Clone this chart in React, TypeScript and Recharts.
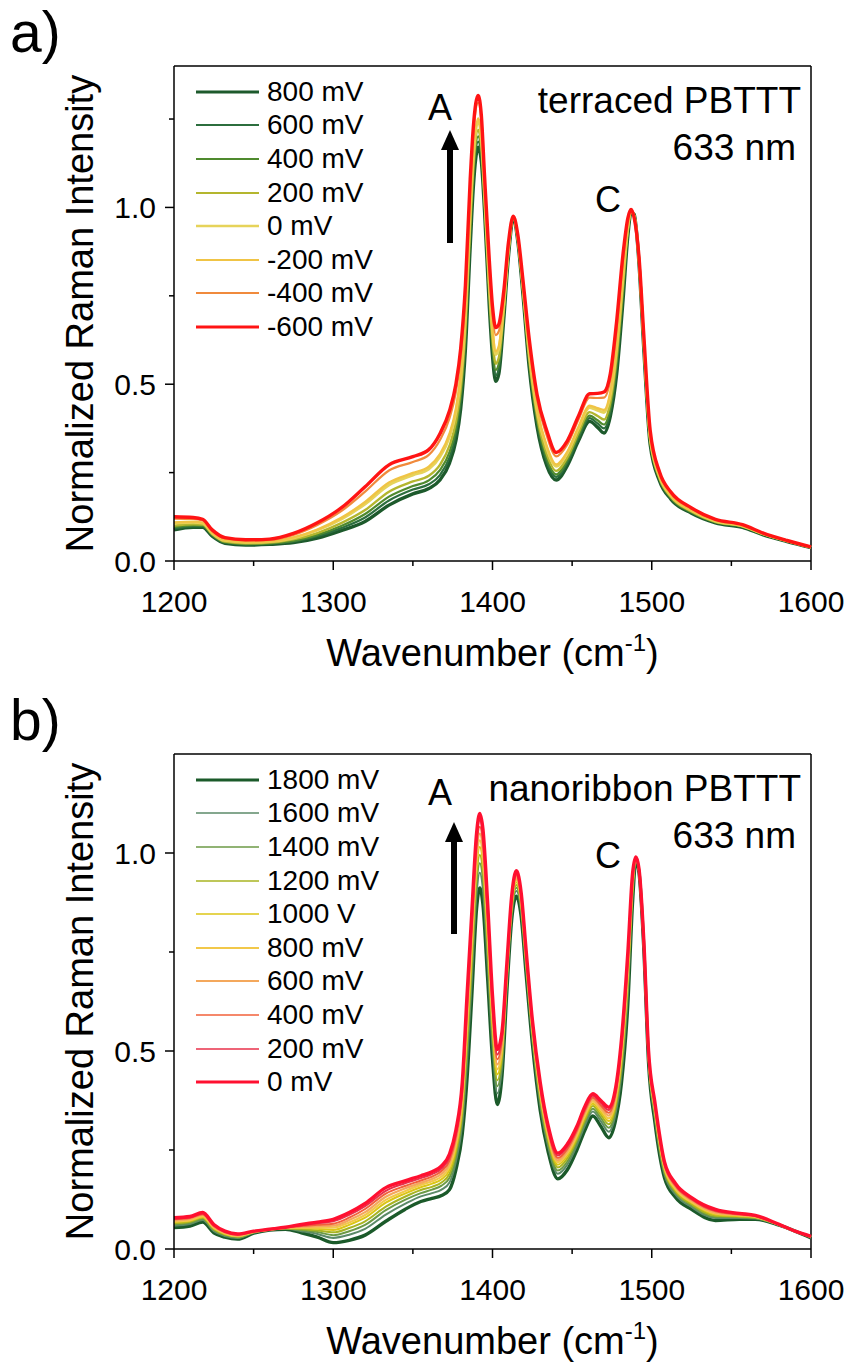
import { LineChart, Line, XAxis, YAxis, ReferenceLine, Legend } from 'recharts';

const FONT = '"Liberation Sans", Arial, Helvetica, sans-serif';

// ---------- panel a: terraced PBTTT ----------
const wavenumbersA = [1200, 1212, 1218, 1224, 1232, 1245, 1260, 1275, 1290, 1305, 1320, 1335, 1350, 1360, 1367, 1373, 1377, 1380, 1383, 1386, 1388, 1391, 1393, 1395, 1398, 1400, 1402, 1404, 1407, 1410, 1413, 1416, 1419, 1423, 1428, 1434, 1440, 1447, 1454, 1461, 1466, 1470, 1474, 1478, 1482, 1485, 1487, 1489, 1492, 1495, 1499, 1505, 1512, 1525, 1540, 1557, 1570, 1585, 1600];

const a800 = [.088, .095, .095, .07, .05, .045, .047, .052, .065, .086, .112, .158, .19, .205, .229, .277, .34, .43, .6, .89, 1.06, 1.17, 1.13, .99, .72, .58, .508, .53, .68, .86, .968, .9, .76, .55, .38, .27, .229, .27, .34, .395, .378, .362, .41, .53, .74, .92, .985, .98, .84, .6, .33, .225, .175, .135, .108, .095, .074, .055, .038];
const a600 = [.092, .098, .098, .072, .052, .047, .049, .055, .070, .093, .123, .171, .202, .217, .243, .293, .358, .449, .620, .911, 1.079, 1.186, 1.144, 1.001, .734, .595, .525, .545, .689, .864, .969, .902, .764, .559, .390, .281, .238, .278, .348, .404, .389, .375, .423, .547, .754, .926, .986, .979, .842, .604, .334, .228, .177, .137, .109, .096, .075, .055, .038];
const a400 = [.096, .101, .100, .074, .053, .048, .050, .057, .074, .099, .133, .182, .212, .228, .257, .308, .374, .466, .638, .930, 1.096, 1.201, 1.157, 1.011, .747, .609, .540, .559, .697, .868, .969, .904, .768, .567, .399, .291, .245, .285, .355, .411, .398, .386, .435, .562, .767, .931, .987, .978, .844, .608, .338, .230, .179, .138, .110, .097, .075, .056, .038];
const a200 = [.100, .104, .103, .076, .055, .050, .052, .061, .079, .107, .144, .196, .225, .241, .272, .326, .393, .486, .659, .953, 1.116, 1.219, 1.173, 1.023, .763, .626, .558, .576, .706, .873, .970, .907, .773, .576, .410, .303, .255, .293, .363, .421, .410, .400, .450, .580, .783, .937, .988, .977, .847, .613, .343, .233, .182, .140, .111, .098, .076, .056, .039];
const a0 = [.107, .109, .107, .079, .058, .053, .055, .065, .087, .118, .161, .215, .243, .260, .295, .351, .420, .515, .690, .985, 1.145, 1.244, 1.195, 1.040, .785, .650, .584, .600, .720, .880, .972, .910, .780, .590, .425, .320, .268, .305, .375, .434, .426, .420, .470, .605, .805, .945, .990, .975, .850, .620, .350, .238, .185, .143, .113, .099, .077, .057, .039];
const aM200 = [.109, .111, .108, .080, .059, .053, .055, .067, .089, .122, .167, .222, .249, .267, .302, .360, .430, .525, .701, .996, 1.155, 1.252, 1.203, 1.046, .793, .658, .593, .608, .725, .882, .972, .911, .782, .595, .430, .326, .273, .309, .379, .439, .432, .427, .477, .614, .813, .948, .990, .974, .851, .622, .352, .239, .186, .143, .114, .099, .077, .057, .039];
const aM400 = [.120, .119, .115, .085, .064, .058, .060, .074, .102, .141, .196, .256, .280, .300, .342, .404, .478, .576, .755, 1.053, 1.206, 1.296, 1.242, 1.076, .832, .700, .639, .650, .749, .894, .974, .917, .794, .619, .457, .356, .296, .330, .400, .462, .461, .462, .513, .659, .852, .963, .993, .971, .857, .634, .364, .247, .192, .148, .117, .102, .078, .058, .040];
const aM600 = [.125, .123, .118, .088, .066, .06, .062, .078, .108, .15, .21, .272, .295, .315, .36, .425, .5, .6, .78, 1.08, 1.23, 1.317, 1.26, 1.09, .85, .72, .66, .67, .76, .9, .975, .92, .8, .63, .47, .37, .307, .34, .41, .473, .474, .478, .53, .68, .87, .97, .994, .97, .86, .64, .37, .25, .195, .15, .118, .103, .079, .058, .04];

const seriesA = [a800, a600, a400, a200, a0, aM200, aM400, aM600];
const labelsA = ['800 mV', '600 mV', '400 mV', '200 mV', '0 mV', '-200 mV', '-400 mV', '-600 mV'];
const colorsA = ['#1d5a2c', '#2c6e3e', '#4f8a2e', '#b4b62e', '#e6d35a', '#f0c445', '#f08a3c', '#ff1414'];
const widthsA = [3, 1.8, 1.8, 2, 2.4, 2, 1.8, 3];

// ---------- panel b: nanoribbon PBTTT ----------
const wavenumbersB = [1200, 1210, 1218, 1225, 1232, 1240, 1250, 1260, 1270, 1280, 1290, 1300, 1310, 1320, 1333, 1345, 1355, 1362, 1368, 1373, 1377, 1381, 1384, 1387, 1390, 1392, 1394, 1397, 1400, 1403, 1406, 1409, 1412, 1415, 1418, 1421, 1425, 1430, 1435, 1441, 1447, 1453, 1458, 1463, 1468, 1473, 1477, 1481, 1485, 1488, 1490, 1492, 1495, 1498, 1502, 1508, 1515, 1525, 1540, 1555, 1565, 1580, 1590, 1600];

const b1800 = [.054, .058, .068, .041, .03, .025, .04, .048, .05, .041, .03, .016, .022, .035, .07, .1, .12, .128, .135, .15, .2, .29, .43, .64, .86, .912, .87, .68, .48, .365, .44, .65, .83, .891, .84, .7, .52, .35, .245, .177, .2, .25, .3, .336, .31, .281, .32, .42, .62, .88, .98, .95, .76, .47, .32, .18, .13, .1, .072, .075, .075, .06, .045, .028];
const b1600 = [.059, .063, .073, .045, .033, .028, .041, .048, .051, .045, .038, .028, .036, .051, .087, .114, .133, .141, .150, .168, .220, .316, .472, .682, .898, .950, .908, .718, .512, .393, .462, .664, .842, .904, .852, .712, .532, .364, .258, .190, .213, .262, .312, .347, .323, .296, .336, .442, .646, .894, .982, .952, .764, .476, .330, .188, .137, .106, .078, .078, .077, .060, .045, .029];
const b1400 = [.062, .066, .076, .048, .035, .029, .042, .049, .052, .048, .043, .035, .045, .061, .098, .124, .141, .150, .160, .180, .233, .333, .499, .709, .923, .974, .933, .743, .533, .411, .476, .673, .850, .912, .860, .720, .540, .373, .266, .198, .221, .270, .320, .354, .331, .306, .346, .456, .663, .903, .983, .953, .767, .480, .337, .193, .142, .110, .081, .080, .078, .061, .045, .029];
const b1200 = [.065, .069, .079, .050, .037, .031, .042, .049, .052, .050, .047, .042, .053, .070, .107, .132, .149, .157, .168, .190, .244, .347, .522, .732, .944, .995, .954, .764, .550, .426, .488, .681, .856, .919, .866, .726, .546, .381, .274, .206, .229, .276, .326, .361, .339, .315, .355, .468, .677, .911, .984, .954, .769, .483, .342, .198, .145, .113, .084, .082, .079, .061, .045, .030];
const b1000 = [.068, .071, .081, .053, .038, .032, .043, .049, .053, .053, .051, .048, .061, .079, .117, .140, .156, .165, .176, .200, .255, .362, .546, .756, .965, 1.015, .975, .785, .568, .441, .501, .689, .863, .926, .873, .733, .553, .389, .281, .213, .236, .283, .333, .367, .346, .323, .364, .481, .692, .919, .986, .956, .771, .487, .348, .202, .149, .117, .087, .083, .081, .061, .045, .030];
const b800 = [.070, .073, .083, .054, .040, .033, .043, .049, .053, .054, .054, .054, .067, .086, .124, .146, .162, .171, .183, .208, .264, .373, .564, .774, .982, 1.032, .992, .802, .582, .454, .510, .695, .868, .932, .878, .738, .558, .395, .287, .219, .242, .288, .338, .372, .352, .330, .371, .490, .703, .925, .986, .956, .773, .489, .352, .206, .152, .119, .090, .085, .081, .061, .045, .031];
const b600 = [.072, .076, .086, .056, .041, .034, .044, .049, .054, .056, .058, .059, .073, .093, .132, .153, .167, .177, .190, .216, .273, .385, .583, .793, .999, 1.049, 1.009, .819, .597, .466, .520, .701, .874, .938, .884, .744, .564, .401, .292, .224, .247, .294, .344, .377, .357, .337, .378, .500, .715, .931, .987, .957, .775, .492, .357, .209, .156, .122, .092, .086, .082, .061, .045, .031];
const b400 = [.075, .078, .088, .058, .042, .036, .044, .050, .054, .058, .061, .064, .079, .101, .140, .159, .173, .183, .197, .224, .282, .397, .602, .812, 1.016, 1.066, 1.026, .836, .611, .479, .530, .707, .879, .943, .889, .749, .569, .407, .298, .230, .253, .299, .349, .382, .363, .344, .386, .510, .727, .937, .988, .958, .776, .495, .361, .213, .159, .125, .095, .087, .083, .062, .045, .031];
const b200 = [.077, .080, .090, .060, .044, .037, .045, .050, .055, .060, .065, .070, .086, .108, .147, .166, .179, .189, .203, .232, .291, .408, .621, .831, 1.033, 1.083, 1.043, .853, .626, .491, .540, .714, .885, .949, .895, .755, .575, .414, .304, .236, .259, .305, .355, .387, .369, .351, .393, .520, .738, .944, .989, .959, .778, .497, .366, .216, .162, .127, .097, .089, .084, .062, .045, .032];
const b0 = [.079, .082, .092, .062, .045, .038, .045, .05, .055, .062, .068, .075, .092, .115, .155, .172, .185, .195, .21, .24, .3, .42, .64, .85, 1.05, 1.10, 1.06, .87, .64, .504, .55, .72, .89, .955, .9, .76, .58, .42, .31, .242, .265, .31, .36, .392, .375, .358, .4, .53, .75, .95, .99, .96, .78, .5, .37, .22, .165, .13, .1, .09, .085, .062, .045, .032];

const seriesB = [b1800, b1600, b1400, b1200, b1000, b800, b600, b400, b200, b0];
const labelsB = ['1800 mV', '1600 mV', '1400 mV', '1200 mV', '1000 V', '800 mV', '600 mV', '400 mV', '200 mV', '0 mV'];
const colorsB = ['#1b5a2a', '#5b8a68', '#6c9a46', '#a8b422', '#dcc616', '#f2c84a', '#f4a85c', '#f2603a', '#e8304a', '#ff1030'];
const widthsB = [3, 1.6, 1.6, 1.6, 1.6, 1.8, 1.8, 1.6, 1.6, 3];

const xTicks = [1200, 1250, 1300, 1350, 1400, 1450, 1500, 1550, 1600];
const yTicksA = [0, 0.25, 0.5, 0.75, 1, 1.25];
const yTicksB = [0, 0.25, 0.5, 0.75, 1];

function buildRows(w: number[], series: number[][]) {
  return w.map((x, i) => {
    const row: Record<string, number> = { w: x };
    series.forEach((s, k) => { row['s' + k] = s[i]; });
    return row;
  });
}

const rowsA = buildRows(wavenumbersA, seriesA);
const rowsB = buildRows(wavenumbersB, seriesB);

function XTick(props: any) {
  const { x, y, payload } = props;
  const major = payload.value % 100 === 0;
  return (
    <g>
      <line x1={x} x2={x} y1={y} y2={y + (major ? 9 : 5)} stroke="#000" strokeWidth={1.5} />
      {major && (
        <text x={x} y={y + 51} textAnchor="middle" fontSize={30} fontFamily={FONT} fill="#000">
          {payload.value}
        </text>
      )}
    </g>
  );
}

function YTick(props: any) {
  const { x, y, payload } = props;
  const v = payload.value;
  const major = Math.abs(v * 2 - Math.round(v * 2)) < 1e-6;
  return (
    <g>
      <line x1={x - (major ? 9 : 5)} x2={x} y1={y} y2={y} stroke="#000" strokeWidth={1.5} />
      {major && (
        <text x={x - 18} y={y + 10.5} textAnchor="end" fontSize={30} fontFamily={FONT} fill="#000">
          {v.toFixed(1)}
        </text>
      )}
    </g>
  );
}

function SeriesLegend({ labels, colors, widths }: { labels: string[]; colors: string[]; widths: number[] }) {
  return (
    <div style={{ fontFamily: FONT, fontSize: 28, color: '#000' }}>
      {labels.map((l, i) => (
        <div key={l} style={{ display: 'flex', alignItems: 'center', height: 33.6, whiteSpace: 'nowrap' }}>
          <svg width={71} height={10} style={{ flex: 'none' }}>
            <line x1={0} x2={63} y1={5} y2={5} stroke={colors[i]} strokeWidth={widths[i]} />
          </svg>
          <span>{l}</span>
        </div>
      ))}
    </div>
  );
}

function Panel(props: {
  rows: Record<string, number>[];
  labels: string[];
  colors: string[];
  widths: number[];
  yMax: number;
  yTicks: number[];
  height: number;
}) {
  const { rows, labels, colors, widths, yMax, yTicks, height } = props;
  return (
    <LineChart width={850} height={height} data={rows} margin={{ top: 66, right: 39, bottom: 0, left: 0 }}>
      <XAxis
        dataKey="w"
        type="number"
        domain={[1200, 1600]}
        ticks={xTicks}
        interval={0}
        tickSize={0}
        tickMargin={0}
        tickLine={false}
        tick={XTick}
        height={height - 66 - 495}
        axisLine={{ stroke: '#000', strokeWidth: 1.5 }}
      />
      <YAxis
        type="number"
        domain={[0, yMax]}
        ticks={yTicks}
        interval={0}
        tickSize={0}
        tickMargin={0}
        tickLine={false}
        tick={YTick}
        width={174}
        allowDataOverflow
        axisLine={{ stroke: '#000', strokeWidth: 1.5 }}
      />
      <ReferenceLine y={yMax} stroke="#000" strokeWidth={1.5} />
      <ReferenceLine x={1600} stroke="#000" strokeWidth={1.5} />
      <Legend
        layout="vertical"
        align="center"
        verticalAlign="middle"
        wrapperStyle={{ left: 196, top: 75, width: 260 }}
        content={() => <SeriesLegend labels={labels} colors={colors} widths={widths} />}
      />
      {labels.map((l, k) => (
        <Line
          key={l}
          dataKey={'s' + k}
          name={l}
          type="monotone"
          stroke={colors[k]}
          strokeWidth={widths[k] + 0.4}
          dot={false}
          isAnimationActive={false}
          strokeLinejoin="round"
        />
      ))}
    </LineChart>
  );
}

function Overlay(props: {
  tag: string;
  sample: string;
  arrowX: number;
  arrowTop: number;
  arrowBottom: number;
  aBase: number;
  cBase: number;
  height: number;
}) {
  const { tag, sample, arrowX, arrowTop, arrowBottom, aBase, cBase, height } = props;
  return (
    <svg
      width={850}
      height={height}
      style={{ position: 'absolute', left: 0, top: 0, pointerEvents: 'none' }}
      fontFamily={FONT}
    >
      <text x={10} y={52} fontSize={57} fill="#000">{tag}</text>
      <text transform="rotate(-90)" x={-313.5} y={93} textAnchor="middle" fontSize={38} fill="#000">
        Normalized Raman Intensity
      </text>
      <text x={492.5} y={666} textAnchor="middle" fontSize={38} fill="#000">
        Wavenumber (cm<tspan dy={-15} fontSize={24}>-1</tspan><tspan dy={15}>)</tspan>
      </text>
      <text x={440} y={aBase} textAnchor="middle" fontSize={36} fill="#000">A</text>
      <rect x={arrowX - 3} y={arrowTop + 19} width={6} height={arrowBottom - arrowTop - 19} fill="#000" />
      <polygon
        points={`${arrowX - 9},${arrowTop + 20} ${arrowX + 9},${arrowTop + 20} ${arrowX},${arrowTop}`}
        fill="#000"
      />
      <text x={608} y={cBase} textAnchor="middle" fontSize={36} fill="#000">C</text>
      <text x={801} y={113} textAnchor="end" fontSize={37} fill="#000">{sample}</text>
      <text x={796} y={160} textAnchor="end" fontSize={37} fill="#000">633 nm</text>
    </svg>
  );
}

export default function App() {
  return (
    <div style={{ position: 'absolute', left: 0, top: 0, width: 850, height: 1365, overflow: 'hidden', background: '#fff' }}>
      <div style={{ position: 'absolute', left: 0, top: 0, width: 850, height: 680 }}>
        <Panel rows={rowsA} labels={labelsA} colors={colorsA} widths={widthsA} yMax={1.4} yTicks={yTicksA} height={680} />
        <Overlay tag="a)" sample="terraced PBTTT" arrowX={450} arrowTop={130} arrowBottom={243} aBase={120} cBase={212} height={680} />
      </div>
      <div style={{ position: 'absolute', left: 0, top: 688, width: 850, height: 677 }}>
        <Panel rows={rowsB} labels={labelsB} colors={colorsB} widths={widthsB} yMax={1.25} yTicks={yTicksB} height={677} />
        <Overlay tag="b)" sample="nanoribbon PBTTT" arrowX={454} arrowTop={134} arrowBottom={246} aBase={117} cBase={180} height={677} />
      </div>
    </div>
  );
}
